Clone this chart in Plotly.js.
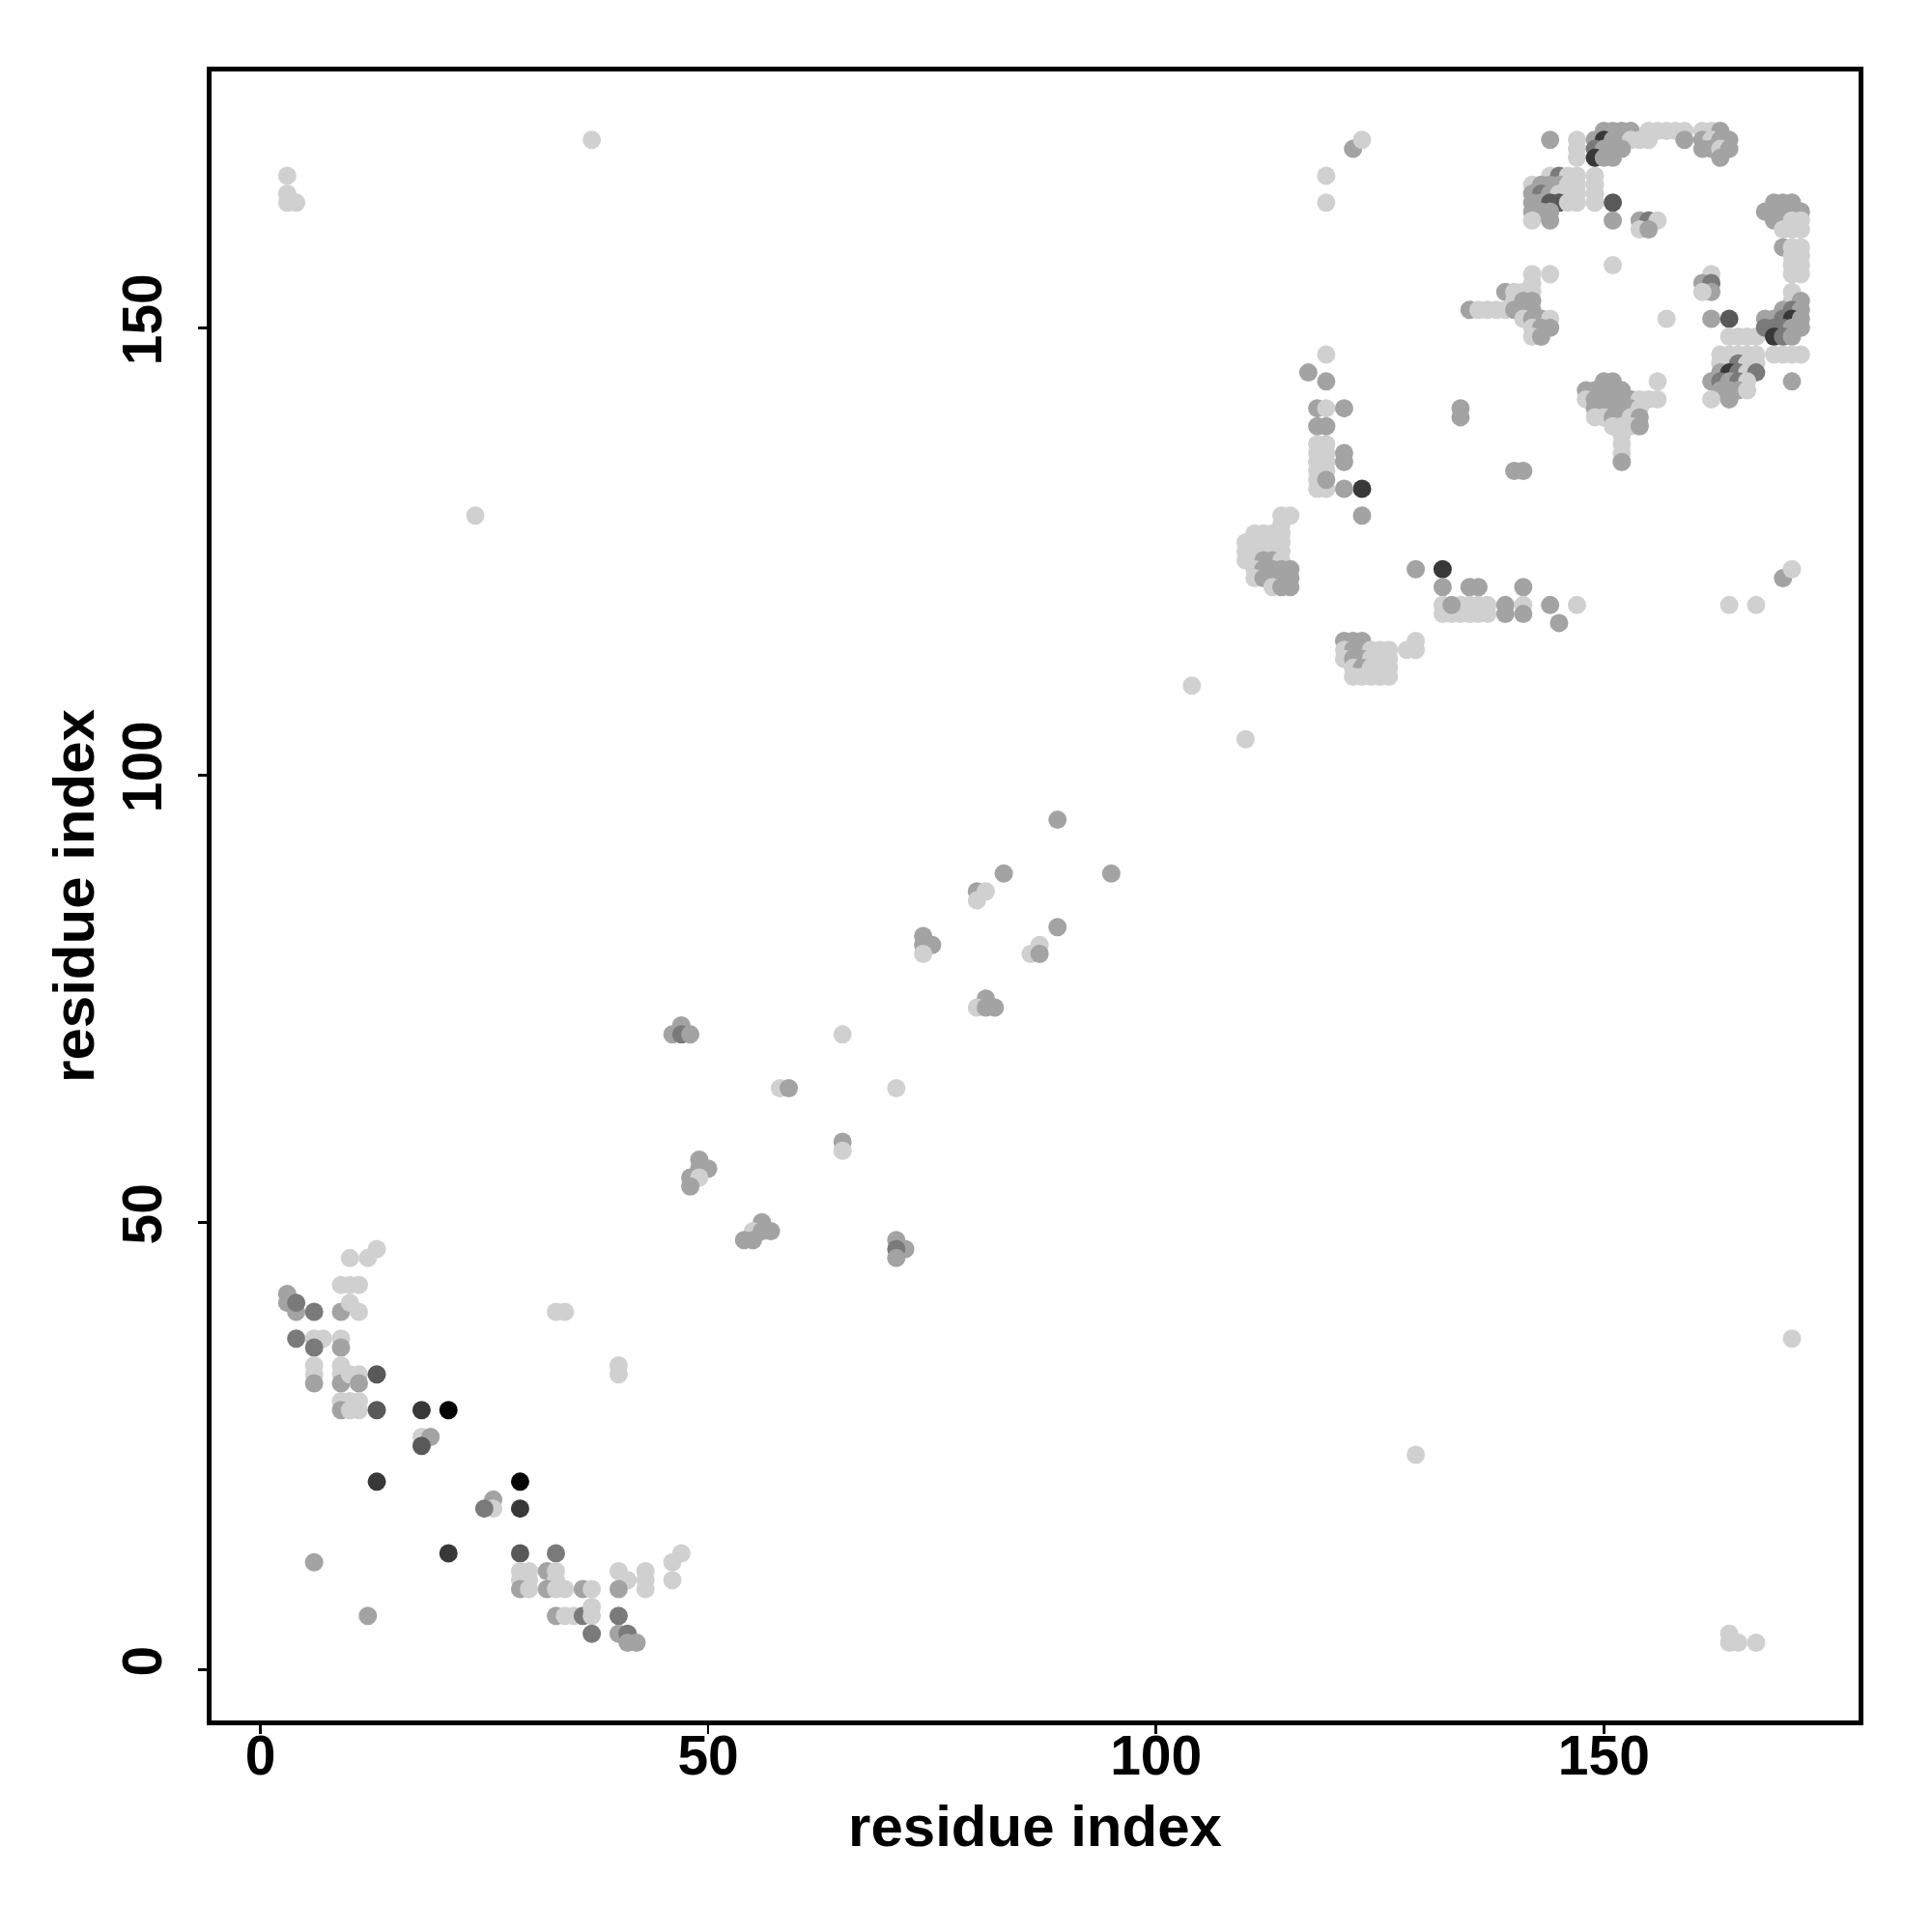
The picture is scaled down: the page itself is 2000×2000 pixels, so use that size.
<!DOCTYPE html>
<html>
<head>
<meta charset="utf-8">
<script src="https://cdn.plot.ly/plotly-3.0.1.min.js"></script>
<style>html,body{margin:0;padding:0;background:#fff;}#plot{width:2000px;height:2000px;}</style>
</head>
<body>
<div id="plot"></div>
<script>
// contact strength class: 1 = weakest (light grey) ... 6 = strongest (black)

// N-terminal contacts (lower left)
const lowerI = [10,12,13,9,10,11,3,3,4,4,6,9,10,11,4,6,7,6,9,9,6,6,6,9,9,9,10,11,11,13,9,10,11,9,10,11,13,18,21,18,19,18,13,29,29,26,26,25,21,6,12];
const lowerJ = [46,46,47,43,43,43,42,41,40,41,40,40,41,40,37,37,37,36,37,36,34,33,32,34,33,32,33,33,32,33,30,30,30,29,29,29,29,29,29,26,26,25,21,21,18,19,18,18,13,12,6];
const lowerS = [1,1,1,1,1,1,2,2,2,3,3,2,1,1,3,1,1,3,1,2,1,1,2,1,1,2,1,1,2,4,1,1,1,2,1,1,4,5,6,1,2,4,5,6,5,2,1,3,5,2,2];

// band near residues 29-47 vs 3-13
const bandI = [29,33, 29,30,29,30,32,33,33, 29,30,32,33,34,36,37, 40,41,40,43,43,43, 46,46,47, 33,34,35,36,37,37,40, 37,40,41,41,42];
const bandJ = [13,13, 11,11,10,10,11,11,10, 9,9,9,9,9,9,9, 11,10,9,11,10,9, 10,12,13, 6,6,6,6,6,7,6, 4,4,4,3,3];
const bandS = [4,3, 1,1,1,1,2,1,1, 2,1,2,1,1,2,1, 1,1,2,1,1,1, 1,1,1, 2,1,1,3,1,1,3, 3,2,3,2,2];

// middle diagonal contacts
const midI = [33,34,40,40, 47,46,47,48,65, 58,59,71,65,65, 49,50,49,48,49,48, 56,57,55,54,55,56, 71,72,71,71, 74,75,74,74, 81,80,82,81, 80,81,80,83,95,89, 87,86,87,89, 104,110];
const midJ = [40,40,34,33, 72,71,71,71,71, 65,65,65,59,58, 57,56,56,55,55,54, 50,49,49,48,48,49, 48,47,47,46, 82,81,81,80, 75,74,74,74, 87,87,86,89,89,95, 81,80,80,83, 110,104];
const midS = [1,1,1,1, 2,2,3,2,1, 1,2,1,2,1, 2,2,2,2,1,2, 2,2,1,2,2,2, 2,2,3,2, 2,2,2,1, 2,1,2,2, 2,1,1,2,2,2, 1,1,2,2, 1,1];

// block 110-115 x 121-129
const hxI = [114,115,114, 111,112,113,114, 110,111,112,113,114, 110,111,112,113,114, 110,111,112,113,114, 111,112,113,114,115, 111,112,113,114,115, 113,114,115];
const hxJ = [129,129,128, 127,127,127,127, 126,126,126,126,126, 125,125,125,125,125, 124,124,124,124,124, 123,123,123,123,123, 122,122,122,122,122, 121,121,121];
const hxS = [1,1,1, 1,1,1,1, 1,1,1,1,1, 1,1,1,1,1, 1,1,2,2,1, 1,2,2,2,2, 1,2,2,2,2, 1,2,2];

// block 121-129 x 111-115
const sbI = [121,122,123,129, 121,122,123,124,125,126,128,129, 121,122,123,124,125,126, 122,123,124,125,126, 122,123,124,125,126];
const sbJ = [115,115,115,115, 114,114,114,114,114,114,114,114, 113,113,113,113,113,113, 112,112,112,112,112, 111,111,111,111,111];
const sbS = [2,2,2,1, 1,2,2,1,1,1,1,1, 1,2,2,1,1,1, 1,2,1,1,1, 1,1,1,1,1];

// row near residues 117-123
const rwI = [129,132,132,135,136, 132,134,135,136,137, 132,133,134,135,136,137, 133, 139,139,141,141,141, 144,145,147, 164,167,170,171];
const rwJ = [123,123,121,121,121, 119,119,119,119,119, 118,118,118,118,118,118, 119, 119,118,121,119,118, 119,117,119, 119,119,122,123];
const rwS = [2,5,2,2,2, 1,1,1,1,1, 1,1,1,1,1,1, 2, 2,2,2,1,2, 2,2,1, 1,1,2,1];

// column near residues 117-123 x 129-147
const lpI = [123,121,123, 118,119,118,119,118,119,118,119,118,118,119,119, 121,121, 118,119,121,118,119, 119,117,119, 134,134,140,141];
const lpJ = [132,132,129, 137,137,136,136,135,135,134,134,133,132,132,133, 136,135, 141,141,141,139,139, 147,145,144, 141,140,134,134];
const lpS = [5,2,2, 1,1,1,1,1,1,1,1,1,1,1,2, 2,2, 2,1,2,2,2, 1,2,2, 2,2,2,2];

// upper cluster 119-149 x 162-171
const ucI = [119,119,122,123, 144,147,147,147, 144,145,146,147,149, 142,143,144,145,146,147,149, 142,143,144,145,146,147,149, 142,143,144,145,146,147,149, 142,143,144, 142,144];
const ucJ = [167,164,170,171, 171,171,170,169, 167,167,167,167,167, 166,166,166,166,166,166,166, 165,165,165,165,165,165,165, 164,164,164,164,164,164,164, 163,163,163, 162,162];
const ucS = [1,1,2,1, 2,1,1,1, 1,3,1,1,1, 1,2,2,2,1,1,1, 2,3,2,1,1,1,1, 2,2,4,4,1,1,1, 2,2,2, 1,2];

// top cluster 149-164 x 169-172
const tcI = [150,151,152,153, 149,150,151,152,153,154, 149,150,151,152, 149,150,151, 155,156,157,158,159,155,159, 161,162,163, 161,162,163,164, 161,162,163,164, 163];
const tcJ = [172,172,172,172, 171,171,171,171,171,171, 170,170,170,170, 169,169,169, 172,172,172,172,172,171,171, 172,172,172, 171,171,171,171, 170,170,170,170, 169];
const tcS = [2,2,2,2, 2,5,2,2,1,1, 3,2,2,2, 5,2,2, 1,1,1,1,1,1,2, 1,1,2, 2,1,2,2, 2,2,1,2, 2];

// scattered 151-167 x 149-164
const mrI = [151,151, 154,155,156,154,155, 151,157, 162,161,162,162,161, 162,164, 164,165,166,167];
const mrJ = [164,162, 162,162,162,161,161, 157,151, 156,155,155,154,154, 151,151, 149,149,149,149];
const mrS = [4,2, 2,3,1,1,2, 1,1, 1,2,3,2,1, 2,4, 1,1,1,1];

// far right 168-172 x 144-164
const frI = [169,170,171, 168,169,170,171,172, 169,170,171,172, 170,171,172, 170,171,172,171,172,171,172,171,172, 171,171,172, 170,171,172, 168,169,170,171,172, 168,169,170,171,172, 169,170,171, 169,170,171,172, 171];
const frJ = [164,164,164, 163,163,163,163,163, 162,162,162,162, 161,161,161, 159,159,159,158,158,157,157,156,156, 154,153,153, 152,152,152, 151,151,151,151,151, 150,150,150,150,150, 149,149,149, 147,147,147,147, 144];
const frS = [2,2,2, 2,2,2,2,2, 2,2,1,1, 1,1,1, 2,1,1,1,1,1,1,1,1, 1,1,2, 2,3,2, 2,2,3,5,2, 3,3,3,2,2, 5,3,2, 1,1,1,1, 2];

// cluster 162-167 x 142-147
const ccI = [163,164,165,166,167, 163,164,165,166,167, 163,164,165,166,167, 162,163,164,165,166, 163,164,165,166, 162,164];
const ccJ = [147,147,147,147,147, 146,146,146,146,146, 145,145,145,145,145, 144,144,144,144,144, 143,143,143,143, 142,142];
const ccS = [1,1,1,1,1, 1,1,3,1,1, 2,5,3,1,3, 2,3,2,3,1, 2,2,2,1, 1,2];

// cluster 148-156 x 135-144
const cdI = [150,151,156, 148,149,150,151,152, 148,149,150,151,152,153,154,155,156, 149,150,151,152,153,154, 149,150,151,152,153,154, 151,152,153,154, 152,152,152,152];
const cdJ = [144,144,144, 143,143,143,143,143, 142,142,142,142,142,142,142,142,142, 141,141,141,141,141,141, 140,140,140,140,140,140, 139,139,139,139, 138,137,136,135];
const cdS = [2,2,1, 2,2,2,2,2, 1,2,2,2,2,2,1,1,1, 2,2,2,2,2,1, 1,1,2,2,1,2, 1,1,1,2, 1,1,1,2];

// cluster 135-144 x 149-156
const ceI = [142,144,142, 139,140,141,142, 140,141,142, 135,136,137,138,139,140,141,142, 141,142,143,144, 142,143,144, 142,143];
const ceJ = [156,156,155, 154,154,154,154, 153,153,153, 152,152,152,152,152,152,152,152, 151,151,151,151, 150,150,150, 149,149];
const ceS = [1,1,1, 2,1,1,1, 1,2,2, 2,1,1,1,1,2,2,2, 1,2,2,1, 1,2,2, 1,2];

// isolated long-range contacts
const otI = [3,3,3,4,37,24,171,129,164,164,165,167];
const otJ = [167,165,164,164,171,129,37,24,4,3,3,3];
const otS = [1,1,1,1,1,1,1,1,1,1,1,1];

const tickVals = [0, 50, 100, 150];
const tickText = ['0', '50', '100', '150'];
const axisLabel = 'residue index';

const groupsI = [lowerI, bandI, midI, hxI, sbI, rwI, lpI, ucI, tcI, mrI, frI, ccI, cdI, ceI, otI];
const groupsJ = [lowerJ, bandJ, midJ, hxJ, sbJ, rwJ, lpJ, ucJ, tcJ, mrJ, frJ, ccJ, cdJ, ceJ, otJ];
const groupsS = [lowerS, bandS, midS, hxS, sbS, rwS, lpS, ucS, tcS, mrS, frS, ccS, cdS, ceS, otS];

const allI = [].concat(...groupsI);
const allJ = [].concat(...groupsJ);
const allS = [].concat(...groupsS);

const trace = {
  type: 'scatter',
  mode: 'markers',
  x: allI,
  y: allJ,
  marker: {
    size: 19,
    color: allS,
    cmin: 1,
    cmax: 6,
    colorscale: [[0, '#d0d0d0'], [0.2, '#a3a3a3'], [0.4, '#7a7a7a'], [0.6, '#595959'], [0.8, '#383838'], [1, '#050505']],
    showscale: false,
    line: {width: 0}
  },
  hoverinfo: 'x+y'
};

const fontFam = 'Liberation Sans, Arial, Helvetica, sans-serif';

const layout = {
  width: 2000,
  height: 2000,
  paper_bgcolor: '#ffffff',
  plot_bgcolor: '#ffffff',
  showlegend: false,
  margin: {l: 218.5, r: 75.5, t: 74, b: 219, pad: 0},
  font: {family: fontFam, color: '#000'},
  xaxis: {
    range: [-5.45, 178.44],
    tickvals: tickVals,
    ticktext: tickText,
    ticks: 'outside',
    ticklen: 9,
    tickwidth: 2.5,
    tickcolor: '#000',
    showline: true,
    linewidth: 5,
    linecolor: '#000',
    mirror: true,
    showgrid: false,
    zeroline: false,
    automargin: false,
    ticklabelstandoff: -26,
    tickfont: {family: fontFam, size: 57, weight: 'bold', color: '#000'},
    title: {text: axisLabel, font: {family: fontFam, size: 60, weight: 'bold', color: '#000'}, standoff: 22}
  },
  yaxis: {
    range: [-5.69, 178.65],
    tickvals: tickVals,
    ticktext: tickText,
    tickangle: -90,
    ticks: 'outside',
    ticklen: 9,
    tickwidth: 2.5,
    tickcolor: '#000',
    showline: true,
    linewidth: 5,
    linecolor: '#000',
    mirror: true,
    showgrid: false,
    zeroline: false,
    automargin: false,
    ticklabelstandoff: 15,
    tickfont: {family: fontFam, size: 57, weight: 'bold', color: '#000'},
    title: {text: axisLabel, font: {family: fontFam, size: 60, weight: 'bold', color: '#000'}, standoff: 0}
  }
};

Plotly.newPlot('plot', [trace], layout, {displayModeBar: false, staticPlot: true});
</script>
</body>
</html>
